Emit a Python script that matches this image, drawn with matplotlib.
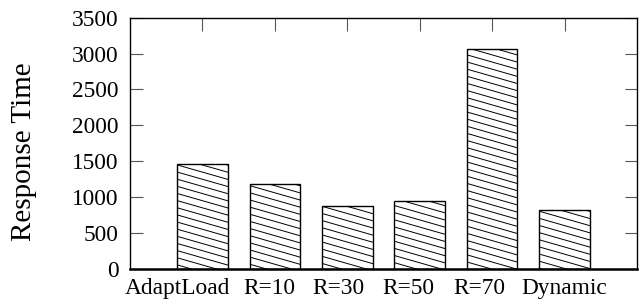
import numpy as np
import matplotlib
matplotlib.use("Agg")
import matplotlib.pyplot as plt
import matplotlib.hatch as mhatch
import matplotlib.transforms as mtransforms
from matplotlib.path import Path

# chart data
labels = ["AdaptLoad", "R=10", "R=30", "R=50", "R=70", "Dynamic"]
response_time = [1470, 1190, 880, 950, 3065, 830]
y_ticks = [0, 500, 1000, 1500, 2000, 2500, 3000, 3500]

# label shift (pixels) relative to the bar centre, as in the original plot
label_shift = [-25, -6, -9, -11, -13, 0]


class ShallowHatch(mhatch.HatchPatternBase):
    # shallow "\" lines like the gnuplot fill pattern
    step = 1.0 / 14
    slope = 4.0 / 14

    def __init__(self, hatch, density):
        if '\\' in hatch:
            self.num_lines = 14 + 4 + 1
        else:
            self.num_lines = 0
        self.num_vertices = self.num_lines * 2

    def set_vertices_and_codes(self, vertices, codes):
        c = np.arange(self.num_lines) * self.step
        vertices[0::2, 0] = 0.0
        vertices[0::2, 1] = c
        vertices[1::2, 0] = 1.0
        vertices[1::2, 1] = c - self.slope
        codes[0::2] = Path.MOVETO
        codes[1::2] = Path.LINETO


mhatch._hatch_types = [ShallowHatch if t is mhatch.SouthEastHatch else t
                       for t in mhatch._hatch_types]

plt.rcParams['font.family'] = ['Liberation Serif', 'DejaVu Serif']
plt.rcParams['hatch.linewidth'] = 0.7
plt.rcParams['hatch.color'] = 'black'

fig = plt.figure(figsize=(6.42, 3.05), dpi=100)
ax = fig.add_axes([0.2025, 0.117, 0.7897, 0.8255])

x = np.arange(1, len(labels) + 1)
ax.bar(x, response_time, width=0.7, facecolor='white', edgecolor='black',
       linewidth=1.0, hatch='\\', zorder=3)

ax.set_xlim(0, len(labels) + 1)
ax.set_ylim(0, 3500)
ax.set_xticks(x)
ax.set_xticklabels(labels)
ax.set_yticks(y_ticks)

ax.tick_params(axis='both', direction='in', length=9, width=0.8,
               labelsize=16.8, top=True, right=True, color='#555555')
ax.tick_params(axis='y', pad=8)
ax.tick_params(axis='x', pad=6)
for s in ax.spines.values():
    s.set_linewidth(1.0)
ax.spines['bottom'].set_linewidth(1.8)
ax.spines['bottom'].set_zorder(4)

for lbl, dx in zip(ax.get_xticklabels(), label_shift):
    offset = mtransforms.ScaledTranslation(dx / 100.0, 0, fig.dpi_scale_trans)
    lbl.set_transform(lbl.get_transform() + offset)

ax.set_ylabel("Response Time", fontsize=21)
ax.yaxis.set_label_coords(-0.183, 0.466)

fig.savefig("out.png", dpi=100)
